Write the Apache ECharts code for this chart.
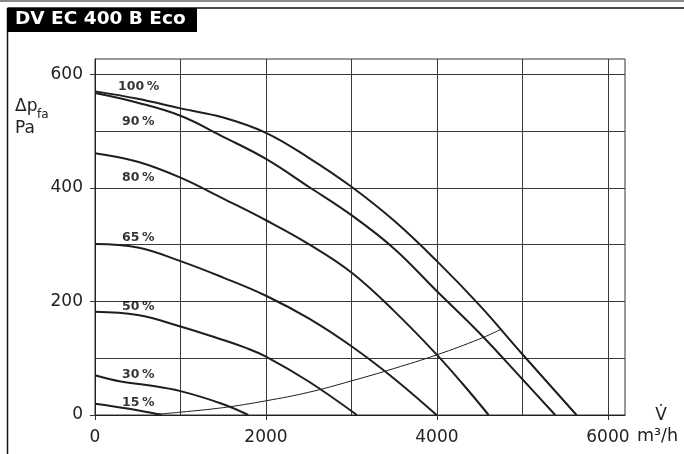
<!DOCTYPE html>
<html>
<head>
<meta charset="utf-8">
<script src="https://cdn.jsdelivr.net/npm/echarts@6/dist/echarts.min.js"></script>
<style>
html, body { margin: 0; padding: 0; background: #fff; }
#chart { width: 684px; height: 454px; }
</style>
</head>
<body>
<div id="chart"></div>
<script>
// achsen
var xTicks = [0, 2000, 4000, 6000];
var yTicks = [0, 200, 400, 600];

// kennlinien [m3/h, Pa]
var curve100 = [[0, 570], [500, 557], [1000, 540], [1500, 524], [2000, 497], [2500, 453], [3000, 402], [3500, 342], [4000, 271], [4500, 193], [5000, 107], [5633, 0]];
var curve90 = [[0, 567], [500, 550], [1000, 527], [1500, 490], [2000, 451], [2500, 402], [3000, 352], [3500, 293], [4000, 218], [4500, 144], [5000, 63], [5384, 0]];
var curve80 = [[0, 461], [500, 446], [1000, 418], [1500, 381], [2000, 343], [2500, 301], [3000, 251], [3500, 183], [4000, 106], [4300, 55], [4605, 0]];
var curve65 = [[0, 301], [500, 295], [1000, 271], [1500, 242], [2000, 210], [2500, 170], [3000, 121], [3500, 64], [3996, 0]];
var curve50 = [[0, 182], [500, 176], [1000, 156], [1500, 132], [1750, 119], [2000, 103], [2500, 59], [3064, 0]];
var curve30 = [[0, 70], [300, 59], [600, 53], [1000, 42], [1500, 19], [1793, 0]];
var curve15 = [[0, 20], [400, 11], [780, 0]];
// anlagenkennlinie
var systemCurve = [[700, 1], [1000, 5], [1500, 13], [2000, 25], [2500, 40], [3000, 60], [3500, 82], [4000, 106], [4500, 134], [4750, 151]];

var curveNames = ['100\u2009%', '90\u2009%', '80\u2009%', '65\u2009%', '50\u2009%', '30\u2009%', '15\u2009%'];
var labelAnchors = [[270, 578], [316, 516], [316, 417], [316, 313], [316, 191], [316, 71], [316, 21]];

var FONT = 'DejaVu Sans';
var chart = echarts.init(document.getElementById('chart'));

var curves = [curve100, curve90, curve80, curve65, curve50, curve30, curve15];
var series = [];
for (var i = 0; i < curves.length; i++) {
     series.push({
          name: curveNames[i],
          type: 'line',
          data: curves[i],
          showSymbol: false,
          smooth: 0.4,
          lineStyle: { color: '#1e1e1e', width: 2 },
          z: 3
     });
}
series.push({
     name: 'Anlage',
     type: 'line',
     data: systemCurve,
     showSymbol: false,
     smooth: 0.4,
     lineStyle: { color: '#1e1e1e', width: 1 },
     z: 3
});
var labelData = [];
for (var j = 0; j < curveNames.length; j++) {
     labelData.push([labelAnchors[j][0], labelAnchors[j][1], curveNames[j]]);
}
series.push({
     type: 'scatter',
     data: labelData,
     symbolSize: 0,
     silent: true,
     label: {
          show: true,
          position: 'right',
          distance: 0,
          formatter: function (p) { return p.value[2]; },
          fontFamily: FONT,
          fontWeight: 'bold',
          fontSize: 12.5,
          color: '#000',
          textBorderWidth: 0
     },
     z: 4
});

function plain(v) {
     return String(v);
}

var option = {
     animation: false,
     backgroundColor: '#fff',
     grid: {
          left: 95,
          top: 59,
          right: 59,
          bottom: 39,
          show: true,
          borderColor: '#333',
          borderWidth: 1,
          containLabel: false
     },
     xAxis: {
          type: 'value',
          min: 0,
          max: 6200,
          interval: 2000,
          axisLine: { show: true, lineStyle: { color: '#222', width: 1 } },
          axisTick: { show: true, length: 5, customValues: xTicks, lineStyle: { color: '#333' } },
          axisLabel: { customValues: xTicks, formatter: plain, margin: 14, fontFamily: FONT, fontSize: 17, color: '#222' },
          splitLine: { show: true, lineStyle: { color: '#3a3a3a', width: 1 } },
          minorTick: { show: false, splitNumber: 2 },
          minorSplitLine: { show: true, lineStyle: { color: '#3a3a3a', width: 1 } }
     },
     yAxis: {
          type: 'value',
          min: 0,
          max: 627,
          interval: 200,
          axisLine: { show: true, lineStyle: { color: '#222', width: 1 } },
          axisTick: { show: true, length: 5, customValues: yTicks, lineStyle: { color: '#333' } },
          axisLabel: { customValues: yTicks, formatter: plain, margin: 12, fontFamily: FONT, fontSize: 17, color: '#222' },
          splitLine: { show: true, lineStyle: { color: '#3a3a3a', width: 1 } },
          minorTick: { show: false, splitNumber: 2 },
          minorSplitLine: { show: true, lineStyle: { color: '#3a3a3a', width: 1 } }
     },
     graphic: [
          { type: 'line', shape: { x1: 0, y1: 1, x2: 684, y2: 1 }, style: { stroke: '#8a8a8a', lineWidth: 2 } },
          { type: 'line', shape: { x1: 7.5, y1: 8, x2: 684, y2: 8 }, style: { stroke: '#111', lineWidth: 1.5 } },
          { type: 'line', shape: { x1: 7.5, y1: 8, x2: 7.5, y2: 454 }, style: { stroke: '#111', lineWidth: 1.5 } },
          { type: 'rect', shape: { x: 7, y: 8, width: 190, height: 24 }, style: { fill: '#000' } },
          { type: 'text', left: 15, top: 10, style: { text: 'DV EC 400 B Eco', fill: '#fff', font: 'bold 18.5px "' + FONT + '"' } },
          { type: 'text', x: 15, y: 115, style: { text: '\u0394p', fill: '#222', font: '17px "' + FONT + '"', verticalAlign: 'bottom' } },
          { type: 'text', x: 37, y: 121, style: { text: 'fa', fill: '#222', font: '12px "' + FONT + '"', verticalAlign: 'bottom' } },
          { type: 'text', x: 15, y: 137, style: { text: 'Pa', fill: '#222', font: '17px "' + FONT + '"', verticalAlign: 'bottom' } },
          { type: 'text', x: 661, y: 416, style: { text: 'V\u0307', fill: '#222', font: '17px "' + FONT + '"', align: 'center', verticalAlign: 'middle' } },
          { type: 'text', x: 637, y: 436, style: { text: 'm\u00b3/h', fill: '#222', font: '17.5px "' + FONT + '"', verticalAlign: 'middle' } }
     ],
     series: series
};
chart.setOption(option);
</script>
</body>
</html>
